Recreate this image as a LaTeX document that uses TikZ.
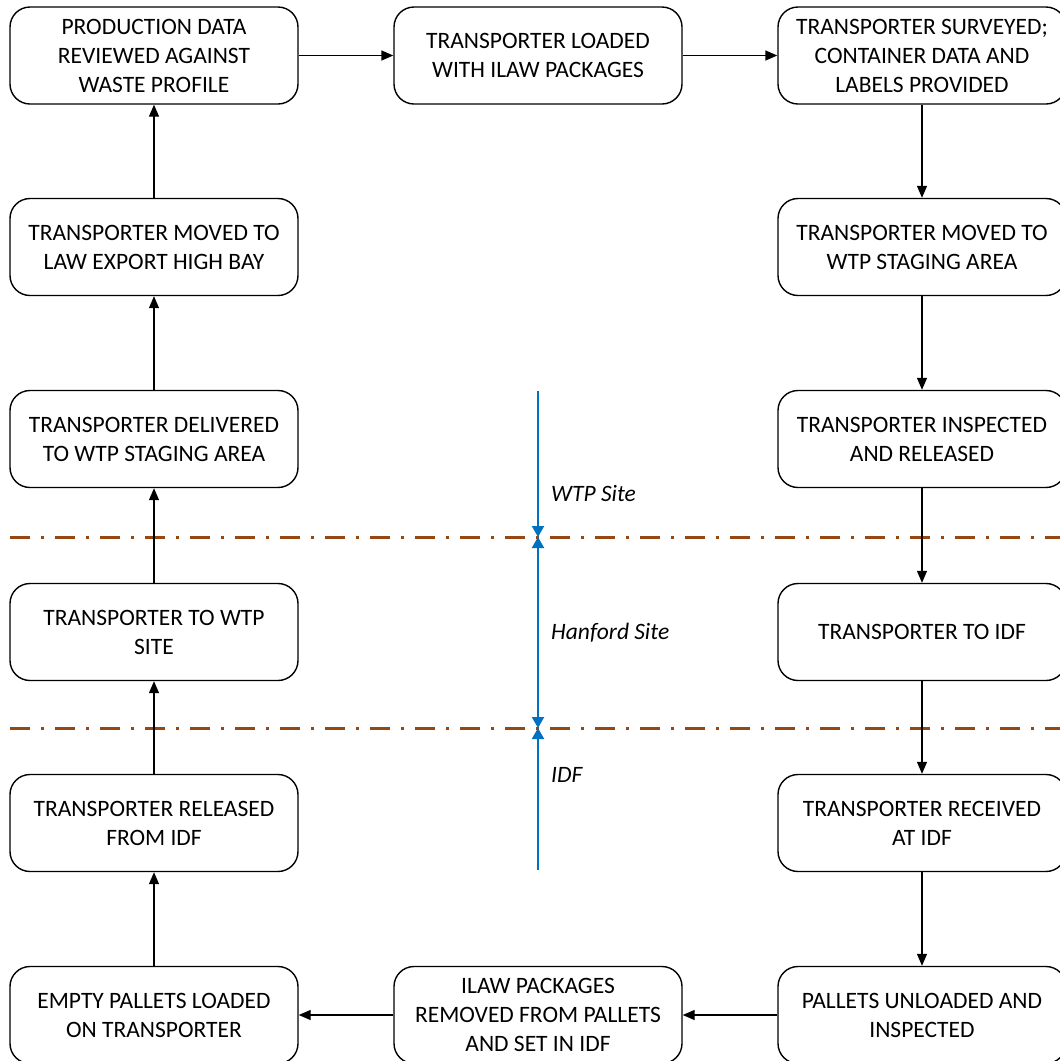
\documentclass[tikz,border=0pt]{standalone}
\usepackage{fontspec}
\setmainfont{Carlito}
\usetikzlibrary{arrows.meta}
\definecolor{sitebrown}{RGB}{150,72,18}
\definecolor{siteblue}{RGB}{0,112,192}
\tikzset{
  btip/.tip={Triangle[length=11pt,width=12pt]},
  ktip/.tip={Triangle[length=12pt,width=10pt]},
  box/.style={draw, rounded corners=20pt, minimum width=288pt, minimum height=97pt,
    align=center, line width=1.4pt, inner sep=0pt, font=\fontsize{23.5}{29}\selectfont},
  arr/.style={line width=1.4pt, -{ktip}},
  sitesep/.style={draw=sitebrown, line width=3pt, dash pattern=on 20pt off 11pt on 2.5pt off 11.5pt},
  bluearr/.style={draw=siteblue, fill=siteblue, line width=2pt},
  sitelabel/.style={anchor=west, inner sep=0pt, font=\fontsize{23.5}{29}\selectfont\itshape}
}
\begin{document}
\begin{tikzpicture}[x=1pt,y=-1pt]
\useasboundingbox (0,0) rectangle (1060,1061);
\clip (0,0) rectangle (1060,1061);
% separators
\coordinate (s1a) at (10,537); \coordinate (s1b) at (1060,537);
\coordinate (s2a) at (10,728); \coordinate (s2b) at (1060,728);
\draw[sitesep] (s1a) -- (s1b);
\draw[sitesep] (s2a) -- (s2b);
% boxes
\node[box] (l1) at (154,55.5) {PRODUCTION DATA\\REVIEWED AGAINST\\WASTE PROFILE};
\node[box] (m1) at (538,55.5) {TRANSPORTER LOADED\\WITH ILAW PACKAGES};
\node[box] (r1) at (922,55.5) {TRANSPORTER SURVEYED;\\CONTAINER DATA AND\\LABELS PROVIDED};
\node[box] (l2) at (154,247) {TRANSPORTER MOVED TO\\LAW EXPORT HIGH BAY};
\node[box] (r2) at (922,247) {TRANSPORTER MOVED TO\\WTP STAGING AREA};
\node[box] (l3) at (154,439) {TRANSPORTER DELIVERED\\TO WTP STAGING AREA};
\node[box] (r3) at (922,439) {TRANSPORTER INSPECTED\\AND RELEASED};
\node[box] (l4) at (154,632) {TRANSPORTER TO WTP\\SITE};
\node[box] (r4) at (922,632) {TRANSPORTER TO IDF};
\node[box] (l5) at (154,823) {TRANSPORTER RELEASED\\FROM IDF};
\node[box] (r5) at (922,823) {TRANSPORTER RECEIVED\\AT IDF};
\node[box] (l6) at (154,1015) {EMPTY PALLETS LOADED\\ON TRANSPORTER};
\node[box] (m6) at (538,1015) {ILAW PACKAGES\\REMOVED FROM PALLETS\\AND SET IN IDF};
\node[box] (r6) at (922,1015) {PALLETS UNLOADED AND\\INSPECTED};
% connectors
\draw[arr] (l1) -- (m1);
\draw[arr] (m1) -- (r1);
\draw[arr] (r1) -- (r2);
\draw[arr] (r2) -- (r3);
\draw[arr] (r3) -- (r4);
\draw[arr] (r4) -- (r5);
\draw[arr] (r5) -- (r6);
\draw[arr] (r6) -- (m6);
\draw[arr] (m6) -- (l6);
\draw[arr] (l6) -- (l5);
\draw[arr] (l5) -- (l4);
\draw[arr] (l4) -- (l3);
\draw[arr] (l3) -- (l2);
\draw[arr] (l2) -- (l1);
% site markers
\coordinate (b0) at (538,391);
\coordinate (b1) at (538,537);
\coordinate (b2) at (538,728);
\coordinate (b3) at (538,870);
\draw[bluearr, -{btip}] (b0) -- (b1);
\draw[bluearr, {btip}-{btip}] (b1) -- (b2);
\draw[bluearr, -{btip}] (b3) -- (b2);
\node[sitelabel] (wtp) at (551,493) {WTP Site};
\node[sitelabel] (hanford) at (551,633) {Hanford Site};
\node[sitelabel] (idf) at (551,775) {IDF};
\end{tikzpicture}
\end{document}
